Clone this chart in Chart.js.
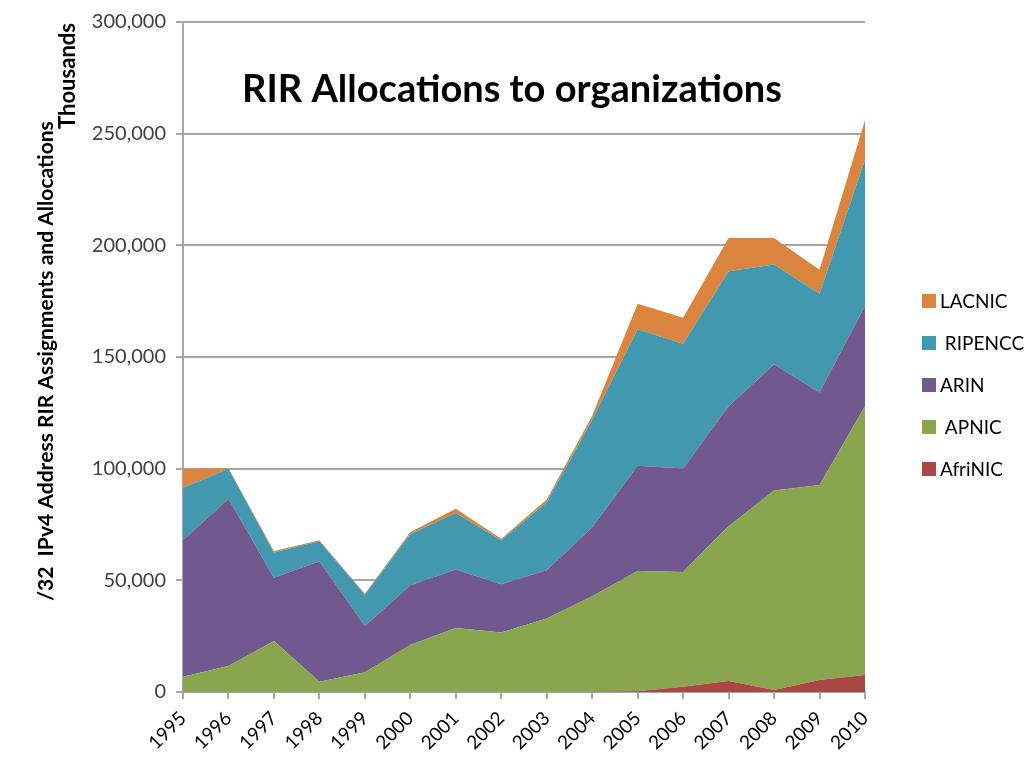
<!DOCTYPE html>
<html>
<head>
<meta charset="utf-8">
<script src="https://cdn.jsdelivr.net/npm/chart.js@4"></script>
<style>
html,body{margin:0;padding:0;background:#fff;}
#wrap{width:1029px;height:757px;position:relative;}
</style>
</head>
<body>
<div id="wrap"><canvas id="c" width="1029" height="757"></canvas></div>
<script>
const years = ['1995','1996','1997','1998','1999','2000','2001','2002','2003','2004','2005','2006','2007','2008','2009','2010'];
const afrinic = [0,0,0,0,0,0,0,0,0,0,300,2400,4900,900,5400,7600];
const apnic   = [6800,11600,22800,4600,8800,21000,28700,26600,32900,42900,53900,51300,69300,89300,87300,120400];
const arin    = [61100,74900,28400,53900,20700,26800,26200,21600,21600,30900,47100,46400,53800,56500,41400,44800];
const ripencc = [23500,13500,11300,9000,14000,22900,25300,19800,30500,48100,61100,55800,60400,44700,44200,65500];
const lacnic  = [8600,200,600,400,500,900,1800,600,1200,1800,11400,11700,14900,11900,10800,17700];
const yTicks = [0,50000,100000,150000,200000,250000,300000];

const names  = ['AfriNIC','APNIC','ARIN','RIPENCC','LACNIC'];
const series = [afrinic, apnic, arin, ripencc, lacnic];
const colors = ['#AA4643','#89A54E','#71588F','#4198AF','#DB843D'];

const datasets = series.map((d,i)=>({
  label: names[i], data: d,
  backgroundColor: colors[i], borderColor: colors[i], borderWidth: 0,
  pointRadius: 0, fill: i===0 ? 'origin' : '-1', tension: 0
}));

const FONT = 'Lato, "Open Sans", sans-serif';

function fitFont(ctx, text, weight, targetW){
  ctx.font = `${weight} 20px ${FONT}`;
  const w = ctx.measureText(text).width;
  return 20 * targetW / w;
}

const extras = {
  id: 'extras',
  afterDraw(chart){
    const ctx = chart.ctx;
    ctx.save();
    // Title
    const t = 'RIR Allocations to organizations';
    let size = fitFont(ctx, t, 'bold', 540);
    ctx.font = `bold ${size}px ${FONT}`;
    ctx.fillStyle = '#000';
    ctx.textAlign = 'center';
    ctx.textBaseline = 'alphabetic';
    ctx.fillText(t, 512, 102);
    // Thousands
    ctx.save();
    ctx.translate(68, 76);
    ctx.rotate(-Math.PI/2);
    size = fitFont(ctx, 'Thousands', 'bold', 106);
    ctx.font = `bold ${size}px ${FONT}`;
    ctx.textBaseline = 'middle';
    ctx.fillText('Thousands', 0, 0);
    ctx.restore();
    // Axis title
    ctx.save();
    const ca = chart.chartArea;
    ctx.translate(46, (ca.top + ca.bottom) / 2 + 4);
    ctx.rotate(-Math.PI/2);
    const at = '/32  IPv4 Address RIR Assignments and Allocations';
    size = fitFont(ctx, at, 'bold', 480);
    ctx.font = `bold ${size}px ${FONT}`;
    ctx.textBaseline = 'middle';
    ctx.fillText(at, 0, 0);
    ctx.restore();
    // Legend
    const order = [4,3,2,1,0];
    const labels = ['LACNIC',' RIPENCC','ARIN',' APNIC','AfriNIC'];
    ctx.font = `19px ${FONT}`;
    ctx.textAlign = 'left';
    ctx.textBaseline = 'middle';
    order.forEach((k,i)=>{
      const y = 301 + i*42;
      ctx.fillStyle = colors[k];
      ctx.fillRect(922, y-7, 14, 14);
      ctx.fillStyle = '#000';
      ctx.fillText(labels[i], 940, y+1);
    });
    ctx.restore();
  }
};

new Chart(document.getElementById('c'), {
  type: 'line',
  data: { labels: years, datasets },
  options: {
    responsive: false, animation: false,
    layout: { padding: { left: 0, right: 164, top: 20, bottom: 0 } },
    plugins: { legend: { display: false }, tooltip: { enabled: false } },
    elements: { line: { borderWidth: 0 } },
    scales: {
      x: {
        offset: false,
        grid: { drawOnChartArea: false, drawTicks: true, tickLength: 7, color: '#a6a6a6', lineWidth: 2 },
        border: { color: '#a6a6a6', width: 2 },
        ticks: { color: '#000', font: { family: FONT, size: 19 }, minRotation: 45, maxRotation: 45, padding: 8 },
        afterFit: s => { s.height = 65; }
      },
      y: {
        stacked: true, min: 0, max: 300000,
        afterBuildTicks: s => { s.ticks = yTicks.map(v=>({value:v})); },
        grid: { color: '#a6a6a6', lineWidth: 2, tickLength: 7 },
        border: { color: '#a6a6a6', width: 2 },
        ticks: { color: '#404040', font: { family: FONT, size: 20 }, padding: 10,
          callback: v => v.toLocaleString('en-US') },
        afterFit: s => { s.width = 183; }
      }
    }
  },
  plugins: [extras]
});
</script>
</body>
</html>
